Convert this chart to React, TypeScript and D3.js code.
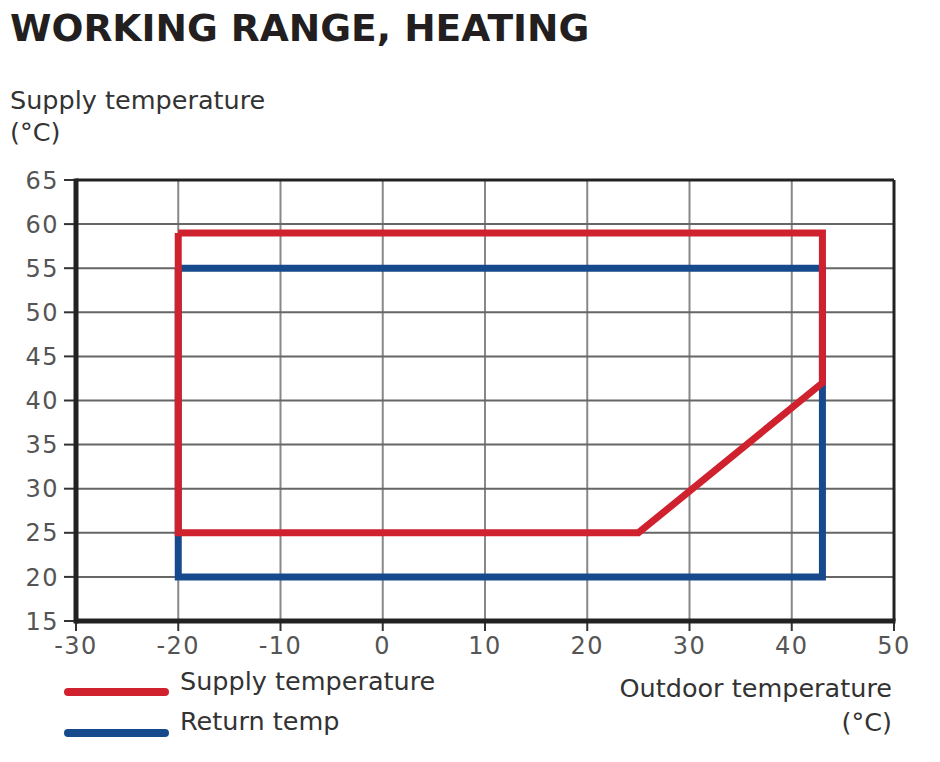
import React from "react";
import * as d3 from "d3";

const xTicks = [-30, -20, -10, 0, 10, 20, 30, 40, 50];
const yTicks = [15, 20, 25, 30, 35, 40, 45, 50, 55, 60, 65];
const supplyX = [-20, 43, 43, 25, -20, -20];
const supplyY = [59, 59, 42, 25, 25, 59];
const returnX = [-20, 43, 43, -20, -20];
const returnY = [55, 55, 20, 20, 55];
const seriesNames = ["Supply temperature", "Return temp"];

const W = 940, H = 762;
const L = 76, R = 894, T = 180, B = 621;

export default function App() {
  const x = d3.scaleLinear().domain([-30, 50]).range([L, R]);
  const y = d3.scaleLinear().domain([15, 65]).range([B, T]);
  const line = d3.line<[number, number]>().x(d => x(d[0])).y(d => y(d[1])).curve(d3.curveLinear);
  const sup: [number, number][] = supplyX.map((v, i) => [v, supplyY[i]]);
  const ret: [number, number][] = returnX.map((v, i) => [v, returnY[i]]);
  const red = "#d0222e";
  const blue = "#174a8c";
  const font = "'DejaVu Sans', sans-serif";
  const fs = 25.5;
  const ts = 24;
  return (
    <svg width={W} height={H} style={{ position: "absolute", left: 0, top: 0, background: "#fff" }}>
      <rect width={W} height={H} fill="#fff" />
      <text x={10} y={41} fontFamily={font} fontWeight={700} fontSize={37.6} fill="#231f20">WORKING RANGE, HEATING</text>
      <text x={10} y={109} fontFamily={font} fontSize={fs} fill="#333">Supply temperature</text>
      <text x={10} y={141} fontFamily={font} fontSize={fs} fill="#333">(°C)</text>
      {xTicks.slice(1, -1).map(t => (
        <line key={"gx" + t} x1={x(t)} x2={x(t)} y1={T} y2={B} stroke="#888" strokeWidth={2} />
      ))}
      {yTicks.slice(1, -1).map(t => (
        <line key={"gy" + t} x1={L} x2={R} y1={y(t)} y2={y(t)} stroke="#666" strokeWidth={2} />
      ))}
      {yTicks.map(t => (
        <g key={"ty" + t}>
          <line x1={L - 12} x2={L} y1={y(t)} y2={y(t)} stroke="#333" strokeWidth={2} />
          <text x={L - 17} y={y(t)} dy="0.36em" textAnchor="end" fontFamily={font} fontSize={ts} letterSpacing={1.5} fill="#555">{t}</text>
        </g>
      ))}
      {xTicks.map(t => (
        <g key={"tx" + t}>
          <line x1={x(t)} x2={x(t)} y1={B} y2={B + 10} stroke="#333" strokeWidth={2} />
          <text x={x(t)} y={654} textAnchor="middle" fontFamily={font} fontSize={ts} letterSpacing={1.5} fill="#555">{t}</text>
        </g>
      ))}
      <path d={line(ret) || ""} fill="none" stroke={blue} strokeWidth={7} strokeLinejoin="miter" />
      <path d={line(sup) || ""} fill="none" stroke={red} strokeWidth={7} strokeLinejoin="miter" />
      <line x1={L} x2={R} y1={T} y2={T} stroke="#222" strokeWidth={3} />
      <line x1={R} x2={R} y1={T} y2={B} stroke="#222" strokeWidth={3} />
      <line x1={L} x2={L} y1={T - 1.5} y2={B + 2.5} stroke="#222" strokeWidth={5} />
      <line x1={L} x2={R + 1.5} y1={B} y2={B} stroke="#222" strokeWidth={5} />
      <line x1={68} x2={165} y1={692} y2={692} stroke={red} strokeWidth={8} strokeLinecap="round" />
      <line x1={68} x2={165} y1={733} y2={733} stroke={blue} strokeWidth={8} strokeLinecap="round" />
      <text x={180} y={690} fontFamily={font} fontSize={fs} fill="#333">{seriesNames[0]}</text>
      <text x={180} y={730} fontFamily={font} fontSize={fs} fill="#333">{seriesNames[1]}</text>
      <text x={892} y={697} textAnchor="end" fontFamily={font} fontSize={fs} fill="#333">Outdoor temperature</text>
      <text x={892} y={731} textAnchor="end" fontFamily={font} fontSize={fs} fill="#333">(°C)</text>
    </svg>
  );
}
